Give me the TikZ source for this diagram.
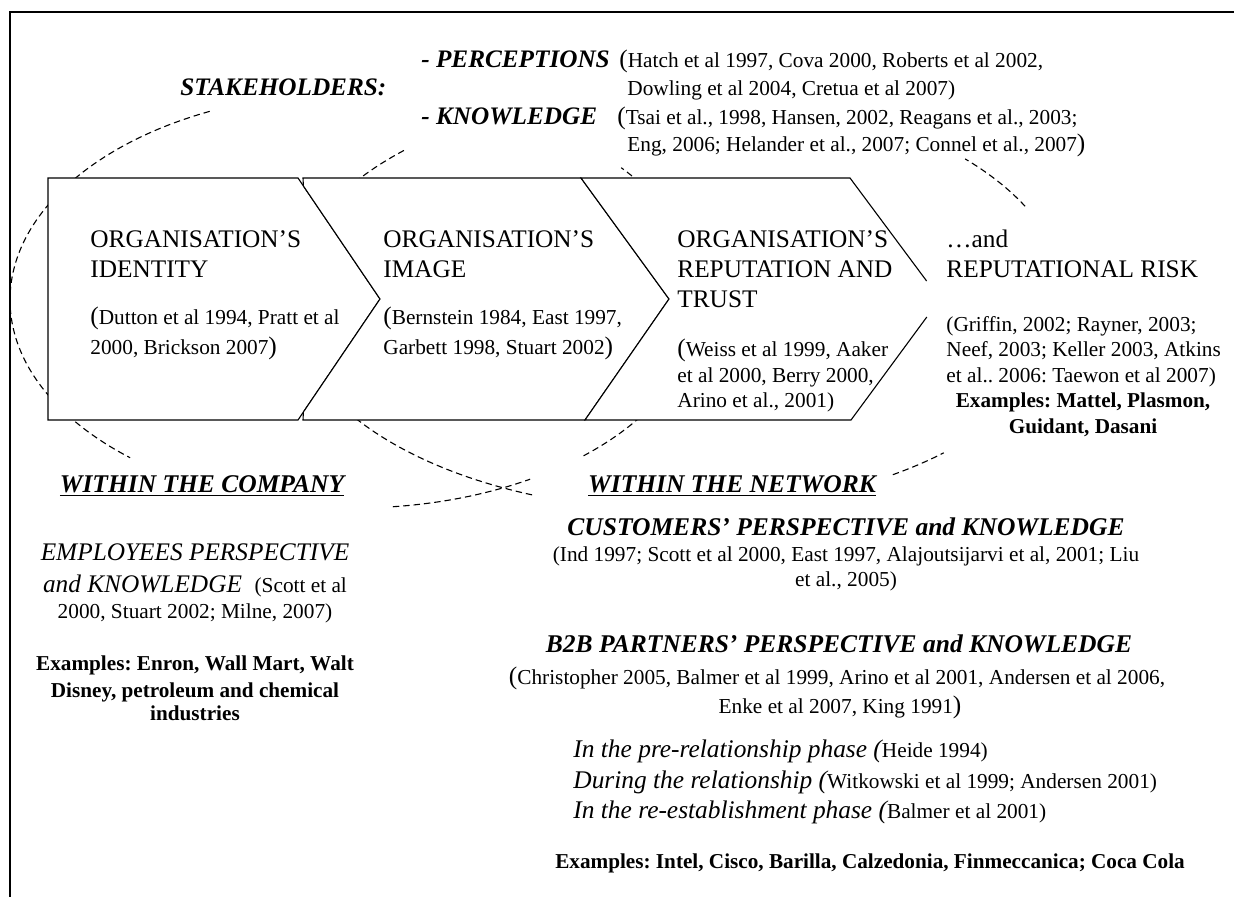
\documentclass[tikz,border=0pt]{standalone}
\usepackage{fontspec}
\setmainfont{Liberation Serif}
\frenchspacing
\newcommand\bigparen[1]{{\fontsize{12.65}{15}\selectfont #1}}
\newcommand\reff{\fontsize{10.65}{13}\selectfont\upshape}
\begin{document}
\begin{tikzpicture}[x=0.5pt,y=-0.5pt,
  frame/.style={line width=0.75pt},
  chev/.style={fill=white,draw=black,line width=0.55pt,line join=miter},
  dsh/.style={line width=0.55pt,dash pattern=on 3.2pt off 2pt},
  ttl/.style={inner sep=0,anchor=base west,font=\fontsize{12.65}{15}\selectfont},
  ref/.style={inner sep=0,anchor=base west,font=\fontsize{10.65}{13}\selectfont},
  refc/.style={inner sep=0,anchor=base,font=\fontsize{10.65}{13}\selectfont},
  stk/.style={inner sep=0,anchor=base west,font=\fontsize{12.6}{15}\selectfont\bfseries\itshape},
  hdc/.style={inner sep=0,anchor=base,font=\fontsize{12.75}{15}\selectfont\bfseries\itshape},
  itc/.style={inner sep=0,anchor=base,font=\fontsize{12.65}{15}\selectfont\itshape},
  itl/.style={inner sep=0,anchor=base west,font=\fontsize{12.7}{15}\selectfont\itshape},
  exc/.style={inner sep=0,anchor=base,font=\fontsize{10.6}{13}\selectfont\bfseries}
]
\useasboundingbox (0,0) rectangle (1234,897);
\fill[white] (0,0) rectangle (1234,897);
% frame (top and left)
\draw[frame] (10,897) -- (10,12) -- (1234,12);

% dashed ellipse A (centre 355,300; a=345, b=208)
\draw[dsh] plot[smooth,domain=114.9:229.3,samples=60,variable=\t] ({355+345*cos(\t)},{300-208*sin(\t)});
\draw[dsh] plot[smooth,domain=276.3:300.5,samples=20,variable=\t] ({355+345*cos(\t)},{300-208*sin(\t)});
\draw[dsh] plot[smooth,domain=311.5:330,samples=20,variable=\t] ({355+345*cos(\t)},{300-208*sin(\t)});
\draw[dsh] plot[smooth,domain=32:39.5,samples=10,variable=\t] ({355+345*cos(\t)},{300-208*sin(\t)});
% dashed ellipse B (centre 677,300; a=389, b=210)
\draw[dsh] plot[smooth,domain=134.6:150,samples=15,variable=\t] ({677+389*cos(\t)},{300-210*sin(\t)});
\draw[dsh] plot[smooth,domain=210:248.4,samples=30,variable=\t] ({677+389*cos(\t)},{300-210*sin(\t)});
\draw[dsh] plot[smooth,domain=303.7:313.3,samples=10,variable=\t] ({677+389*cos(\t)},{300-210*sin(\t)});
\draw[dsh] plot[smooth,domain=26.5:42.2,samples=15,variable=\t] ({677+389*cos(\t)},{300-210*sin(\t)});

% chevrons
\draw[chev] (48,178) -- (298,178) -- (380,299) -- (298,420) -- (48,420) -- cycle;
\draw[chev] (303,178) -- (303.4,186) -- (380,299) -- (303.4,412) -- (303,420) -- (585,420) -- (669,299) -- (581,178) -- cycle;
\fill[white] (581,178) -- (850,178) -- (940,299) -- (851,420) -- (585,420) -- (669,299) -- cycle;
\draw[line width=0.55pt,line join=miter] (926.6,281) -- (850,178) -- (581,178) -- (669,299) -- (585,420) -- (851,420) -- (926.8,317);

% top texts
\node[stk] (stake) at (180,96) {STAKEHOLDERS:};
\node[stk] (perc) at (421,68) {- PERCEPTIONS};
\node[ref] (percref1) at (619,68) {\bigparen{(}Hatch et al 1997, Cova 2000, Roberts et al 2002,};
\node[ref] (percref2) at (627,96) {Dowling et al 2004, Cretua et al 2007)};
\node[stk] (know) at (421,125) {- KNOWLEDGE};
\node[ref] (knowref1) at (617,125) {\bigparen{(}Tsai et al., 1998, Hansen, 2002, Reagans et al., 2003;};
\node[ref] (knowref2) at (627,152) {Eng, 2006; Helander et al., 2007; Connel et al., 2007\bigparen{)}};

% chevron texts
\node[ttl] (id1) at (90,248) {ORGANISATION’S};
\node[ttl] (id2) at (90,278) {IDENTITY};
\node[ref] (id3) at (90,325) {\bigparen{(}Dutton et al 1994, Pratt et al};
\node[ref] (id4) at (90,355) {2000, Brickson 2007\bigparen{)}};
\node[ttl] (im1) at (383,248) {ORGANISATION’S};
\node[ttl] (im2) at (383,278) {IMAGE};
\node[ref] (im3) at (383,325) {\bigparen{(}Bernstein 1984, East 1997,};
\node[ref] (im4) at (383,355) {Garbett 1998, Stuart 2002\bigparen{)}};
\node[ttl] (rp1) at (677,248) {ORGANISATION’S};
\node[ttl] (rp2) at (677,278) {REPUTATION AND};
\node[ttl] (rp3) at (677,308) {TRUST};
\node[ref] (rp4) at (677,357) {\bigparen{(}Weiss et al 1999, Aaker};
\node[ref] (rp5) at (677,383) {et al 2000, Berry 2000,};
\node[ref] (rp6) at (677,408) {Arino et al., 2001)};
\node[ttl] (rr1) at (946,248) {…and};
\node[ttl] (rr2) at (946,278) {REPUTATIONAL RISK};
\node[ref] (rr3) at (946,332) {(Griffin, 2002; Rayner, 2003;};
\node[ref] (rr4) at (946,357) {Neef, 2003; Keller 2003, Atkins};
\node[ref] (rr5) at (946,382) {et al.. 2006: Taewon et al 2007)};
\node[exc] (rr6) at (1083,408) {Examples: Mattel, Plasmon,};
\node[exc] (rr7) at (1083,433) {Guidant, Dasani};

% bottom left
\node[hdc] (wc) at (202,492) {\underline{WITHIN THE COMPANY}};
\node[itc] (emp1) at (195,560) {EMPLOYEES PERSPECTIVE};
\node[itc] (emp2) at (195,592) {and KNOWLEDGE\ \ {\reff (Scott et al}};
\node[refc] (emp3) at (195,618) {2000, Stuart 2002; Milne, 2007)};
\node[exc] (emp4) at (195,670) {Examples: Enron, Wall Mart, Walt};
\node[exc] (emp5) at (195,697) {Disney, petroleum and chemical};
\node[exc] (emp6) at (195,720) {industries};

% bottom right
\node[hdc] (wn) at (732,492) {\underline{WITHIN THE NETWORK}};
\node[hdc] (cu1) at (846,535) {CUSTOMERS’ PERSPECTIVE and KNOWLEDGE};
\node[refc] (cu2) at (846,561) {(Ind 1997; Scott et al 2000, East 1997, Alajoutsijarvi et al, 2001; Liu};
\node[refc] (cu3) at (846,586) {et al., 2005)};
\node[hdc] (b2b1) at (839,652) {B2B PARTNERS’ PERSPECTIVE and KNOWLEDGE};
\node[refc] (b2b2) at (837,684) {\bigparen{(}Christopher 2005, Balmer et al 1999, Arino et al 2001, Andersen et al 2006,};
\node[refc] (b2b3) at (840,713) {Enke et al 2007, King 1991\bigparen{)}};
\node[itl] (ph1) at (573,757) {In the pre-relationship phase ({\reff Heide 1994)}};
\node[itl] (ph2) at (573,788) {During the relationship ({\reff Witkowski et al 1999; Andersen 2001)}};
\node[itl] (ph3) at (573,818) {In the re-establishment phase ({\reff Balmer et al 2001)}};
\node[exc] (ex) at (870,868) {Examples: Intel, Cisco, Barilla, Calzedonia, Finmeccanica; Coca Cola};
\end{tikzpicture}
\end{document}
